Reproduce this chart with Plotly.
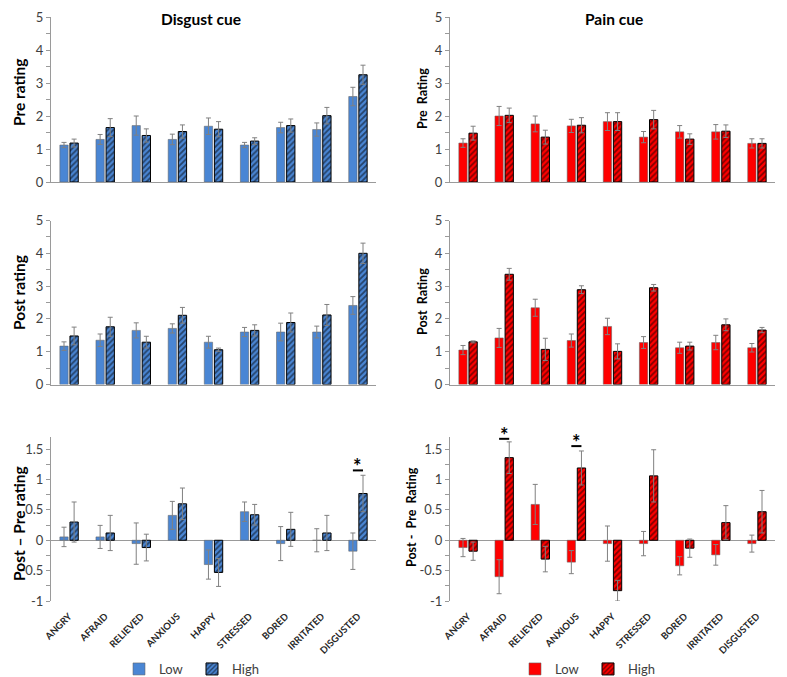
import plotly.graph_objects as go

emotions = ["ANGRY", "AFRAID", "RELIEVED", "ANXIOUS", "HAPPY", "STRESSED", "BORED", "IRRITATED", "DISGUSTED"]

# Disgust cue
disgust_pre_low = [1.12, 1.29, 1.71, 1.29, 1.69, 1.12, 1.65, 1.59, 2.59]
disgust_pre_low_err = [0.08, 0.15, 0.29, 0.16, 0.25, 0.08, 0.16, 0.2, 0.28]
disgust_pre_high = [1.18, 1.65, 1.41, 1.53, 1.60, 1.24, 1.71, 2.01, 3.25]
disgust_pre_high_err = [0.12, 0.27, 0.2, 0.2, 0.23, 0.1, 0.2, 0.25, 0.29]

disgust_post_low = [1.17, 1.35, 1.65, 1.71, 1.29, 1.60, 1.60, 1.60, 2.41]
disgust_post_low_err = [0.13, 0.19, 0.23, 0.14, 0.18, 0.14, 0.27, 0.18, 0.27]
disgust_post_high = [1.48, 1.76, 1.29, 2.11, 1.06, 1.65, 1.89, 2.12, 4.00]
disgust_post_high_err = [0.27, 0.29, 0.18, 0.24, 0.05, 0.17, 0.29, 0.32, 0.31]

disgust_diff_low = [0.055, 0.055, -0.055, 0.41, -0.40, 0.47, -0.055, 0.0, -0.18]
disgust_diff_low_err = [0.16, 0.19, 0.34, 0.23, 0.24, 0.16, 0.28, 0.19, 0.30]
disgust_diff_high = [0.30, 0.12, -0.12, 0.60, -0.53, 0.42, 0.18, 0.12, 0.77]
disgust_diff_high_err = [0.33, 0.29, 0.22, 0.26, 0.23, 0.17, 0.28, 0.29, 0.30]

# Pain cue
pain_pre_low = [1.18, 2.00, 1.76, 1.70, 1.83, 1.36, 1.52, 1.52, 1.17]
pain_pre_low_err = [0.13, 0.29, 0.24, 0.2, 0.27, 0.17, 0.19, 0.22, 0.14]
pain_pre_high = [1.48, 2.02, 1.36, 1.72, 1.83, 1.89, 1.30, 1.54, 1.17]
pain_pre_high_err = [0.21, 0.22, 0.21, 0.23, 0.27, 0.28, 0.16, 0.19, 0.14]

pain_post_low = [1.05, 1.42, 2.34, 1.34, 1.77, 1.28, 1.12, 1.28, 1.12]
pain_post_low_err = [0.14, 0.29, 0.26, 0.2, 0.25, 0.18, 0.17, 0.22, 0.13]
pain_post_high = [1.30, 3.36, 1.07, 2.89, 1.01, 2.95, 1.17, 1.82, 1.66]
pain_post_high_err = [0.03, 0.18, 0.34, 0.12, 0.23, 0.1, 0.12, 0.18, 0.08]

pain_diff_low = [-0.12, -0.60, 0.59, -0.36, -0.055, -0.055, -0.42, -0.24, -0.055]
pain_diff_low_err = [0.15, 0.28, 0.33, 0.19, 0.29, 0.2, 0.15, 0.17, 0.14]
pain_diff_high = [-0.18, 1.36, -0.31, 1.19, -0.83, 1.06, -0.13, 0.29, 0.47]
pain_diff_high_err = [0.15, 0.26, 0.21, 0.28, 0.17, 0.43, 0.15, 0.28, 0.35]

# Significance markers: (category, y level of bracket)
sig_disgust = [("DISGUSTED", 1.15)]
sig_pain = [("AFRAID", 1.67), ("ANXIOUS", 1.55)]

NB = "\u00a0"
titles_left = ["Pre rating", "Post rating", "Post – Pre rating"]
titles_right = ["Pre" + NB + NB + "Rating", "Post" + NB + NB + "Rating",
                "Post -" + NB + NB + "Pre" + NB + NB + "Rating"]

BLUE = "#4a86d4"
RED = "#ff0000"
GREY = "#9a9a9a"
ERR = "#808080"
FONT = "Lato"

xs = list(range(len(emotions)))
W = 0.23
OFF_LOW = -0.255
OFF_HIGH = 0.025

# page body has an 8px margin: the figure is sized/positioned to compensate
O = 8
FW, FH = 787 - O, 677


def px(x):
    return (x - O) / FW


def py(y):
    return 1 - (y - O) / FH


fig = go.Figure()

panels = [
    ("", disgust_pre_low, disgust_pre_low_err, disgust_pre_high, disgust_pre_high_err, BLUE, "legend", False),
    ("2", pain_pre_low, pain_pre_low_err, pain_pre_high, pain_pre_high_err, RED, "legend2", False),
    ("3", disgust_post_low, disgust_post_low_err, disgust_post_high, disgust_post_high_err, BLUE, "legend", False),
    ("4", pain_post_low, pain_post_low_err, pain_post_high, pain_post_high_err, RED, "legend2", False),
    ("5", disgust_diff_low, disgust_diff_low_err, disgust_diff_high, disgust_diff_high_err, BLUE, "legend", True),
    ("6", pain_diff_low, pain_diff_low_err, pain_diff_high, pain_diff_high_err, RED, "legend2", True),
]

for suf, lo, loe, hi, hie, col, leg, sl in panels:
    fig.add_trace(go.Bar(
        x=xs, y=lo, width=W, offset=OFF_LOW, name="Low",
        marker=dict(color=col, line=dict(color="rgba(100,100,100,0.7)", width=0.8)),
        error_y=dict(type="data", array=loe, color=ERR, thickness=1, width=2.5),
        xaxis="x" + suf, yaxis="y" + suf, legend=leg, showlegend=sl,
    ))
    fig.add_trace(go.Bar(
        x=xs, y=hi, width=W, offset=OFF_HIGH, name="High",
        marker=dict(color=col, line=dict(color="black", width=1),
                    pattern=dict(shape="/", fgcolor="black", bgcolor=col, size=4, solidity=0.45)),
        error_y=dict(type="data", array=hie, color=ERR, thickness=1, width=2.5),
        xaxis="x" + suf, yaxis="y" + suf, legend=leg, showlegend=sl,
    ))

xl = [px(51), px(376)]
xr = [px(450), px(775)]
y_top = [py(182), py(17)]
y_mid = [py(384.5), py(220.5)]
y_bot = [py(601), py(437)]

tickfont = dict(family=FONT, size=13, color="#404040")


def xaxis(domain, anchor, bottom):
    d = dict(domain=domain, anchor=anchor, range=[-0.5, 8.5], tickvals=xs, ticktext=emotions,
             showgrid=False, zeroline=False, ticks="", fixedrange=True, automargin=False)
    if bottom:
        d.update(showline=False, showticklabels=True, tickangle=-45, ticklabelstandoff=7,
                 tickfont=dict(family=FONT, size=9.5, color="#262626", weight="bold"))
    else:
        d.update(showline=True, linecolor=GREY, linewidth=1, showticklabels=False)
    return d


def yaxis(domain, anchor, diff):
    d = dict(domain=domain, anchor=anchor, showgrid=False, showline=True, linecolor=GREY, linewidth=1,
             ticks="outside", ticklen=4, tickcolor=GREY, tickfont=tickfont, automargin=False,
             ticklabeloverflow="allow")
    if diff:
        d.update(range=[-1, 1.7], tickvals=[-1, -0.5, 0, 0.5, 1, 1.5],
                 ticktext=["-1", "-0.5", "0", "0.5", "1", "1.5"],
                 zeroline=True, zerolinecolor=GREY, zerolinewidth=1,
                 minor=dict(dtick=0.25, tick0=0, ticks="outside", ticklen=4, tickcolor=GREY))
    else:
        d.update(range=[0, 5], dtick=1, zeroline=False,
                 minor=dict(dtick=0.5, ticks="outside", ticklen=4, tickcolor=GREY))
    return d


legfont = dict(family=FONT, size=13, color="#404040")

fig.update_layout(
    width=FW, height=FH,
    margin=dict(l=0, r=0, t=0, b=0),
    paper_bgcolor="white", plot_bgcolor="white",
    barmode="overlay",
    font=dict(family=FONT, color="#262626"),
    xaxis=xaxis(xl, "y", False),
    yaxis=yaxis(y_top, "x", False),
    xaxis2=xaxis(xr, "y2", False),
    yaxis2=yaxis(y_top, "x2", False),
    xaxis3=xaxis(xl, "y3", False),
    yaxis3=yaxis(y_mid, "x3", False),
    xaxis4=xaxis(xr, "y4", False),
    yaxis4=yaxis(y_mid, "x4", False),
    xaxis5=xaxis(xl, "y5", True),
    yaxis5=yaxis(y_bot, "x5", True),
    xaxis6=xaxis(xr, "y6", True),
    yaxis6=yaxis(y_bot, "x6", True),
    legend=dict(orientation="h", x=px(192), y=py(669), xanchor="center", yanchor="middle",
                font=legfont, itemwidth=30, entrywidth=28, entrywidthmode="pixels",
                bgcolor="rgba(0,0,0,0)"),
    legend2=dict(orientation="h", x=px(588), y=py(669), xanchor="center", yanchor="middle",
                 font=legfont, itemwidth=30, entrywidth=28, entrywidthmode="pixels",
                 bgcolor="rgba(0,0,0,0)"),
)

# Panel titles
fig.add_annotation(text="<b>Disgust cue</b>", xref="paper", yref="paper", x=px(201), y=py(19),
                   xanchor="center", yanchor="middle",
                   showarrow=False, font=dict(family=FONT, size=15.5, color="black"))
fig.add_annotation(text="<b>Pain cue</b>", xref="paper", yref="paper", x=px(614), y=py(19),
                   xanchor="center", yanchor="middle",
                   showarrow=False, font=dict(family=FONT, size=15.5, color="black"))

# Y-axis titles
for t, xc, yc in zip(titles_left, [19, 19, 19], [93, 293, 524]):
    fig.add_annotation(text="<b>" + t + "</b>", xref="paper", yref="paper", x=px(xc), y=py(yc),
                       xanchor="center", yanchor="middle", textangle=-90, showarrow=False,
                       font=dict(family=FONT, size=15.5, color="black"))
for t, xc, yc in zip(titles_right, [423, 423, 411], [99, 302, 517]):
    fig.add_annotation(text="<b>" + t + "</b>", xref="paper", yref="paper", x=px(xc), y=py(yc),
                       xanchor="center", yanchor="middle", textangle=-90, showarrow=False,
                       font=dict(family=FONT, size=12.5, color="black"))

# Significance markers
for sigs, suf in [(sig_disgust, "5"), (sig_pain, "6")]:
    for cat, yv in sigs:
        i = emotions.index(cat)
        fig.add_shape(type="line", xref="x" + suf, yref="y" + suf,
                      x0=i + OFF_LOW + W / 2, x1=i + OFF_HIGH + W / 2, y0=yv, y1=yv,
                      line=dict(color="black", width=2))
        fig.add_annotation(text="<b>*</b>", xref="x" + suf, yref="y" + suf, x=i, y=yv,
                           yanchor="middle", yshift=4, showarrow=False,
                           font=dict(family=FONT, size=20, color="black"))

fig.write_html("out.html")
